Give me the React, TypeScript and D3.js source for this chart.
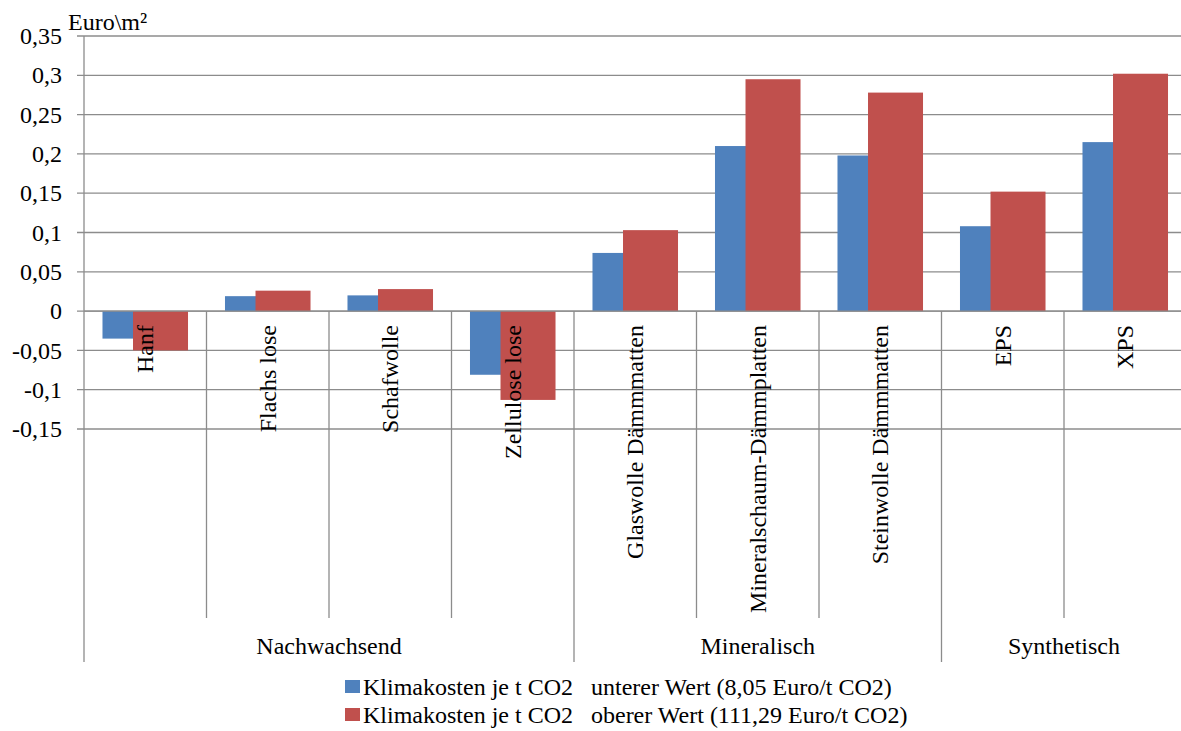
import React from "react";
import * as d3 from "d3";

const categories = [
  "Hanf",
  "Flachs lose",
  "Schafwolle",
  "Zellulose lose",
  "Glaswolle Dämmmatten",
  "Mineralschaum-Dämmplatten",
  "Steinwolle Dämmmatten",
  "EPS",
  "XPS",
];
const groups = ["Nachwachsend", "Mineralisch", "Synthetisch"];
const groupOf = [0, 0, 0, 0, 1, 1, 1, 2, 2];

const lowerValues = [-0.035, 0.019, 0.02, -0.081, 0.074, 0.21, 0.198, 0.108, 0.215];
const upperValues = [-0.05, 0.026, 0.028, -0.113, 0.103, 0.295, 0.278, 0.152, 0.302];

const seriesNames = [
  "Klimakosten je t CO2   unterer Wert (8,05 Euro/t CO2)",
  "Klimakosten je t CO2   oberer Wert (111,29 Euro/t CO2)",
];
const seriesColors = ["#4F81BD", "#C0504D"];
const yTicks = [-0.15, -0.1, -0.05, 0, 0.05, 0.1, 0.15, 0.2, 0.25, 0.3, 0.35];
const yUnit = "Euro\\m²";

const W = 1181;
const H = 731;
const left = 84;
const right = 1186.5;
const top = 36;
const bottom = 429;
const grid = "#8C8C8C";
const FS = 24;
const FONT = "Liberation Serif, Tinos, DejaVu Serif, Noto Serif, serif";

const fmt = (v: number) => {
  const s = d3.format("~g")(Math.round(v * 100) / 100);
  return s.replace(".", ",").replace("−", "-");
};

export default function App() {
  const x = d3.scaleBand<string>().domain(categories).range([left, right]).paddingInner(0).paddingOuter(0);
  const y = d3.scaleLinear().domain([-0.15, 0.35]).range([bottom, top]);
  const bw = x.bandwidth();
  const barW = bw * 0.449;
  const step = barW * 0.555;
  const pad = (bw - barW - step) / 2;
  const y0 = y(0);
  const series = [lowerValues, upperValues];

  // group spans along the category axis
  const spans = groups.map((g, gi) => {
    const idx = categories.map((_, i) => i).filter((i) => groupOf[i] === gi);
    const x0 = x(categories[idx[0]])!;
    const x1 = x(categories[idx[idx.length - 1]])! + bw;
    return { g, x0, x1 };
  });
  const groupBounds = spans.flatMap((s) => [s.x0, s.x1]);

  return (
    <svg
      width={W}
      height={H}
      style={{ position: "fixed", left: 0, top: 0, background: "#fff" }}
      fontFamily={FONT}
      fontSize={FS}
    >
      {/* horizontal gridlines and y ticks */}
      {yTicks.map((t) => (
        <g key={t}>
          <line x1={left - 7} x2={right} y1={y(t)} y2={y(t)} stroke={grid} strokeWidth={1.3} />
          <text x={62} y={y(t)} dy="0.34em" textAnchor="end" fill="#000">
            {fmt(t)}
          </text>
        </g>
      ))}
      <text x={68} y={30} fill="#000">
        {yUnit}
      </text>

      {/* bars */}
      {series.map((vals, si) =>
        vals.map((v, i) => {
          const bx = x(categories[i])! + pad + si * step;
          const yv = y(v);
          return (
            <rect
              key={`${si}-${i}`}
              x={bx}
              y={Math.min(yv, y0)}
              width={barW}
              height={Math.abs(yv - y0)}
              fill={seriesColors[si]}
            />
          );
        })
      )}

      {/* y axis line and category axis line */}
      <line x1={left} x2={left} y1={top} y2={662} stroke={grid} strokeWidth={1.3} />
      <line x1={left} x2={right} y1={y0} y2={y0} stroke={grid} strokeWidth={1.3} />

      {/* category separators */}
      {categories.map((c, i) => {
        const bx = x(c)! + bw;
        if (i === categories.length - 1) return null;
        const isGroup = groupBounds.some((b) => Math.abs(b - bx) < 0.5);
        return <line key={c} x1={bx} x2={bx} y1={y0} y2={isGroup ? 662 : 618} stroke={grid} strokeWidth={1.3} />;
      })}

      {/* category labels */}
      {categories.map((c) => {
        const cx = x(c)! + bw / 2;
        return (
          <text key={c} transform={`translate(${cx},325) rotate(-90)`} textAnchor="end" dy="0.33em" fill="#000">
            {c}
          </text>
        );
      })}

      {/* group labels */}
      {spans.map((s) => (
        <text key={s.g} x={(s.x0 + s.x1) / 2} y={654} textAnchor="middle" fill="#000">
          {s.g}
        </text>
      ))}

      {/* legend */}
      {seriesNames.map((n, i) => (
        <g key={n} transform={`translate(345,${680 + i * 28})`}>
          <rect x={0} y={0} width={15} height={13} fill={seriesColors[i]} />
          <text x={18} y={15} fill="#000" style={{ whiteSpace: "pre" }}>
            {n}
          </text>
        </g>
      ))}
    </svg>
  );
}
